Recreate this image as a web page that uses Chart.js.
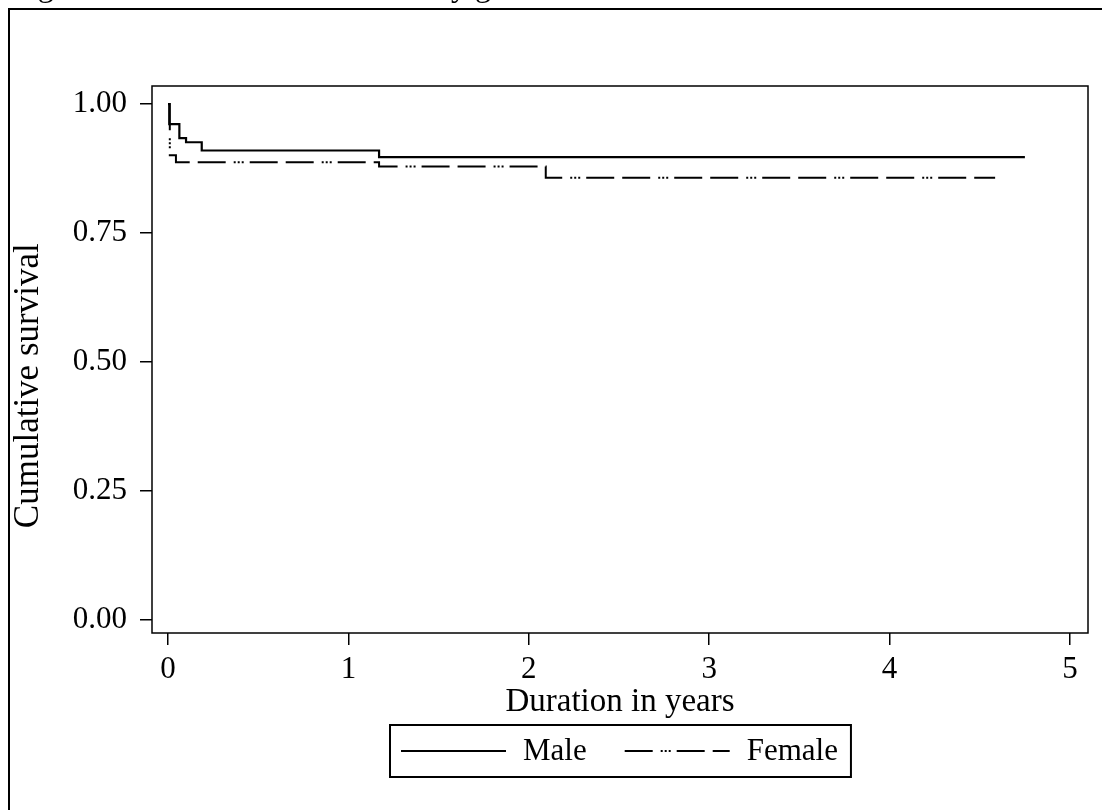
<!DOCTYPE html>
<html>
<head>
<meta charset="utf-8">
<script src="https://cdn.jsdelivr.net/npm/chart.js@4.4.0/dist/chart.umd.min.js"></script>
<style>
  html, body { margin: 0; padding: 0; background: #fff; }
  canvas { display: block; }
</style>
</head>
<body>
<canvas id="survChart" width="1102" height="810"></canvas>
<script>
// Данные: время в годах и доля выживших (ступени Каплана-Мейера)
const maleTimes = [0, 0.007, 0.063, 0.10, 0.187, 1.17, 4.75];
const maleSurv = [1.0, 0.961, 0.934, 0.926, 0.910, 0.897, 0.897];
const femaleTimes = [0, 0.010, 0.044, 1.17, 2.094, 4.585];
const femaleSurv = [1.0, 0.901, 0.887, 0.879, 0.857, 0.857];

const seriesLabels = ["Male", "Female"];
const xTicks = [0, 1, 2, 3, 4, 5];
const yTicks = [0, 0.25, 0.5, 0.75, 1];

const titleText = "Figure 2.10 Cumulative survival by gender";
const FONT = "'Liberation Serif', 'Times New Roman', serif";

Chart.defaults.font.family = FONT;
Chart.defaults.font.size = 31;
Chart.defaults.color = "#000";

// Сборка точек из массивов
function toPoints(times, values) {
  return times.map((t, i) => ({ x: t, y: values[i] }));
}

// Рамки, обрезанный заголовок и легенда в рамке
const framePlugin = {
  id: "frame",
  beforeDraw(chart) {
    const ctx = chart.ctx;
    ctx.save();
    ctx.fillStyle = "#fff";
    ctx.fillRect(0, 0, chart.width, chart.height);
    ctx.fillStyle = "#000";
    ctx.font = "32px " + FONT;
    ctx.textBaseline = "alphabetic";
    ctx.fillText(titleText, 11, -4);
    ctx.strokeStyle = "#000";
    ctx.lineWidth = 2;
    ctx.strokeRect(9, 9, 1300, 1000);
    ctx.restore();
  },
  afterDraw(chart) {
    const ctx = chart.ctx;
    const a = chart.chartArea;
    ctx.save();
    ctx.strokeStyle = "#000";
    ctx.lineWidth = 1.5;
    ctx.strokeRect(a.left, a.top, a.right - a.left, a.bottom - a.top);

    // легенда
    ctx.font = "31px " + FONT;
    const lineLen = 105, gapText = 17, gapItem = 38, padL = 11, padR = 13;
    let total = padL + padR;
    chart.data.datasets.forEach((ds, i) => {
      total += lineLen + gapText + ctx.measureText(ds.label).width;
      if (i > 0) total += gapItem;
    });
    const boxTop = 725, boxH = 52;
    const boxLeft = Math.round((a.left + a.right) / 2 - total / 2);
    ctx.lineWidth = 2;
    ctx.strokeRect(boxLeft, boxTop, total, boxH);
    const cy = boxTop + boxH / 2;
    let x = boxLeft + padL;
    ctx.textBaseline = "middle";
    ctx.fillStyle = "#000";
    chart.data.datasets.forEach((ds) => {
      ctx.beginPath();
      ctx.setLineDash(ds.borderDash || []);
      ctx.lineWidth = ds.borderWidth;
      ctx.moveTo(x, cy);
      ctx.lineTo(x + lineLen, cy);
      ctx.stroke();
      ctx.setLineDash([]);
      x += lineLen + gapText;
      ctx.fillText(ds.label, x, cy + 1);
      x += ctx.measureText(ds.label).width + gapItem;
    });
    ctx.restore();
  }
};

const ctx = document.getElementById("survChart").getContext("2d");
new Chart(ctx, {
  type: "line",
  data: {
    datasets: [
      {
        label: seriesLabels[0],
        data: toPoints(maleTimes, maleSurv),
        borderColor: "#000",
        borderWidth: 2.2,
        stepped: "before",
        pointRadius: 0,
        fill: false
      },
      {
        label: seriesLabels[1],
        data: toPoints(femaleTimes, femaleSurv),
        borderColor: "#000",
        borderWidth: 2,
        borderDash: [28, 8, 2, 2, 2, 2, 2, 6, 28, 8],
        stepped: "before",
        pointRadius: 0,
        fill: false
      }
    ]
  },
  options: {
    responsive: false,
    animation: false,
    layout: { padding: { top: 86, right: 14, bottom: 88, left: 0 } },
    plugins: {
      legend: { display: false },
      tooltip: { enabled: false }
    },
    scales: {
      x: {
        type: "linear",
        min: -0.0887,
        max: 5.0998,
        afterBuildTicks: (scale) => { scale.ticks = xTicks.map((v) => ({ value: v })); },
        afterFit: (scale) => { scale.height = 89; },
        grid: { drawOnChartArea: false, tickLength: 12, color: "#000", lineWidth: 1.5 },
        border: { display: false },
        ticks: { padding: 6, maxRotation: 0, callback: (v) => String(v) },
        title: {
          display: true,
          text: "Duration in years",
          font: { size: 33 },
          padding: { top: 0, bottom: 0 }
        }
      },
      y: {
        type: "linear",
        min: -0.0252,
        max: 1.035,
        afterBuildTicks: (scale) => { scale.ticks = yTicks.map((v) => ({ value: v })); },
        afterFit: (scale) => { scale.width = 152; },
        grid: { drawOnChartArea: false, tickLength: 12, color: "#000", lineWidth: 1.5 },
        border: { display: false },
        ticks: { padding: 13, callback: (v) => Number(v).toFixed(2) },
        title: {
          display: true,
          // пробелы в конце сдвигают подпись вниз, как в оригинале
          text: "Cumulative survival      ",
          font: { size: 35 },
          padding: { top: 8, bottom: 0 }
        }
      }
    }
  },
  plugins: [framePlugin]
});
</script>
</body>
</html>
